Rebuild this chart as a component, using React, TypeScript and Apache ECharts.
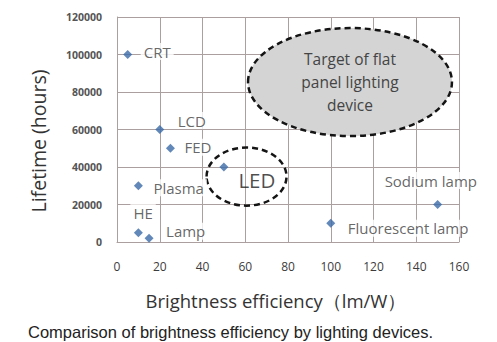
import React, { useEffect, useRef } from "react";
import * as echarts from "echarts";

const devices = ["CRT", "LCD", "FED", "LED", "Plasma", "HE", "Lamp", "Fluorescent lamp", "Sodium lamp"];
const efficiency = [5, 20, 25, 50, 10, 10, 15, 100, 150];
const lifetime = [100000, 60000, 50000, 40000, 30000, 5000, 2000, 10000, 20000];

const xTicks = { min: 0, max: 160, interval: 20 };
const yTicks = { min: 0, max: 120000, interval: 20000 };

// label layout per device: [dx, dy, align]
const labelLayout: [number, number, string][] = [
  [13, -3, "left"],
  [15, -9, "left"],
  [11, -1, "left"],
  [33, 13, "center"],
  [12, 2, "left"],
  [-8, -20, "left"],
  [14, -7, "left"],
  [14, 5, "left"],
  [-56, -24, "left"],
];

const targetText = ["Target of flat", "panel lighting", "device"];

export default function App() {
  const ref = useRef<HTMLDivElement>(null);
  useEffect(() => {
    if (!ref.current) return;
    const chart = echarts.init(ref.current, null, { renderer: "svg" });
    const grid = "#ab9f9f";
    const data = devices.map((name, i) => {
      const [dx, dy, align] = labelLayout[i];
      const isLed = name === "LED";
      return {
        name,
        value: [efficiency[i], lifetime[i]],
        label: {
          show: true,
          position: "inside",
          formatter: name,
          offset: [dx, dy],
          align,
          verticalAlign: "middle",
          fontFamily: "Open Sans",
          fontSize: isLed ? 20.5 : 15,
          color: isLed ? "#1e1e1e" : "#404040",
          backgroundColor: isLed ? "transparent" : "#ffffff",
          padding: isLed ? 0 : [1, 3],
        },
      };
    });
    chart.setOption({
      animation: false,
      backgroundColor: "#ffffff",
      grid: { left: 117, right: 38, top: 17, bottom: 100, containLabel: false },
      xAxis: {
        type: "value",
        ...xTicks,
        axisLine: { show: true, lineStyle: { color: grid } },
        axisTick: { show: false },
        splitLine: { show: true, lineStyle: { color: grid, width: 1 } },
        axisLabel: { margin: 18, fontFamily: "Open Sans", fontSize: 12, color: "#3c3c3c" },
      },
      yAxis: {
        type: "value",
        ...yTicks,
        axisLine: { show: true, lineStyle: { color: grid } },
        axisTick: { show: false },
        splitLine: { show: true, lineStyle: { color: grid, width: 1 } },
        axisLabel: {
          margin: 15,
          fontFamily: "Open Sans",
          fontSize: 10.5,
          fontWeight: "bold",
          color: "#555555",
          formatter: (v: number) => String(v),
        },
      },
      series: [
        {
          type: "scatter",
          symbol: "diamond",
          symbolSize: 9,
          itemStyle: { color: "#3a6aa8" },
          data,
          z: 3,
        },
      ],
    });

    const p = (x: number, y: number) => chart.convertToPixel({ gridIndex: 0 }, [x, y]) as number[];
    const big = p(109, 85300);
    const bigEdge = p(109 + 47.7, 85300 + 28800);
    const led = p(60.6, 34900);
    const ledEdge = p(60.6 + 18.7, 34900 + 15500);

    chart.setOption({
      graphic: [
        {
          type: "ellipse",
          z: 1,
          shape: { cx: big[0], cy: big[1], rx: bigEdge[0] - big[0], ry: big[1] - bigEdge[1] },
          style: { fill: "#d4d4d4", stroke: "#141414", lineWidth: 2.5, lineDash: [6, 4] },
        },
        {
          type: "ellipse",
          z: 1,
          shape: { cx: led[0], cy: led[1], rx: ledEdge[0] - led[0], ry: led[1] - ledEdge[1] },
          style: { fill: "none", stroke: "#141414", lineWidth: 2.5, lineDash: [6, 4] },
        },
        ...targetText.map((t, i) => ({
          type: "text",
          z: 2,
          x: big[0],
          y: big[1] - 23 + i * 23,
          style: {
            text: t,
            align: "center",
            verticalAlign: "middle",
            fontFamily: "Open Sans",
            fontSize: 15.5,
            fill: "#444444",
          },
        })),
        {
          type: "text",
          x: 38,
          y: 141,
          rotation: Math.PI / 2,
          style: {
            text: "Lifetime (hours)",
            align: "center",
            verticalAlign: "middle",
            fontFamily: "Open Sans",
            fontSize: 19.5,
            fill: "#333333",
          },
        },
        {
          type: "text",
          x: 276,
          y: 300,
          style: {
            text: "Brightness efficiency（lm/W）",
            align: "center",
            verticalAlign: "middle",
            fontFamily: "Open Sans",
            fontSize: 18.5,
            fill: "#333333",
          },
        },
        {
          type: "text",
          x: 28,
          y: 323,
          style: {
            text: "Comparison of brightness efficiency by lighting devices.",
            align: "left",
            verticalAlign: "top",
            fontFamily: "Liberation Sans",
            fontSize: 16.5,
            lineHeight: 18,
            fill: "#222222",
          },
        },
      ],
    });
    return () => chart.dispose();
  }, []);
  return <div ref={ref} style={{ width: 497, height: 342, position: "absolute", left: 0, top: 0 }} />;
}
